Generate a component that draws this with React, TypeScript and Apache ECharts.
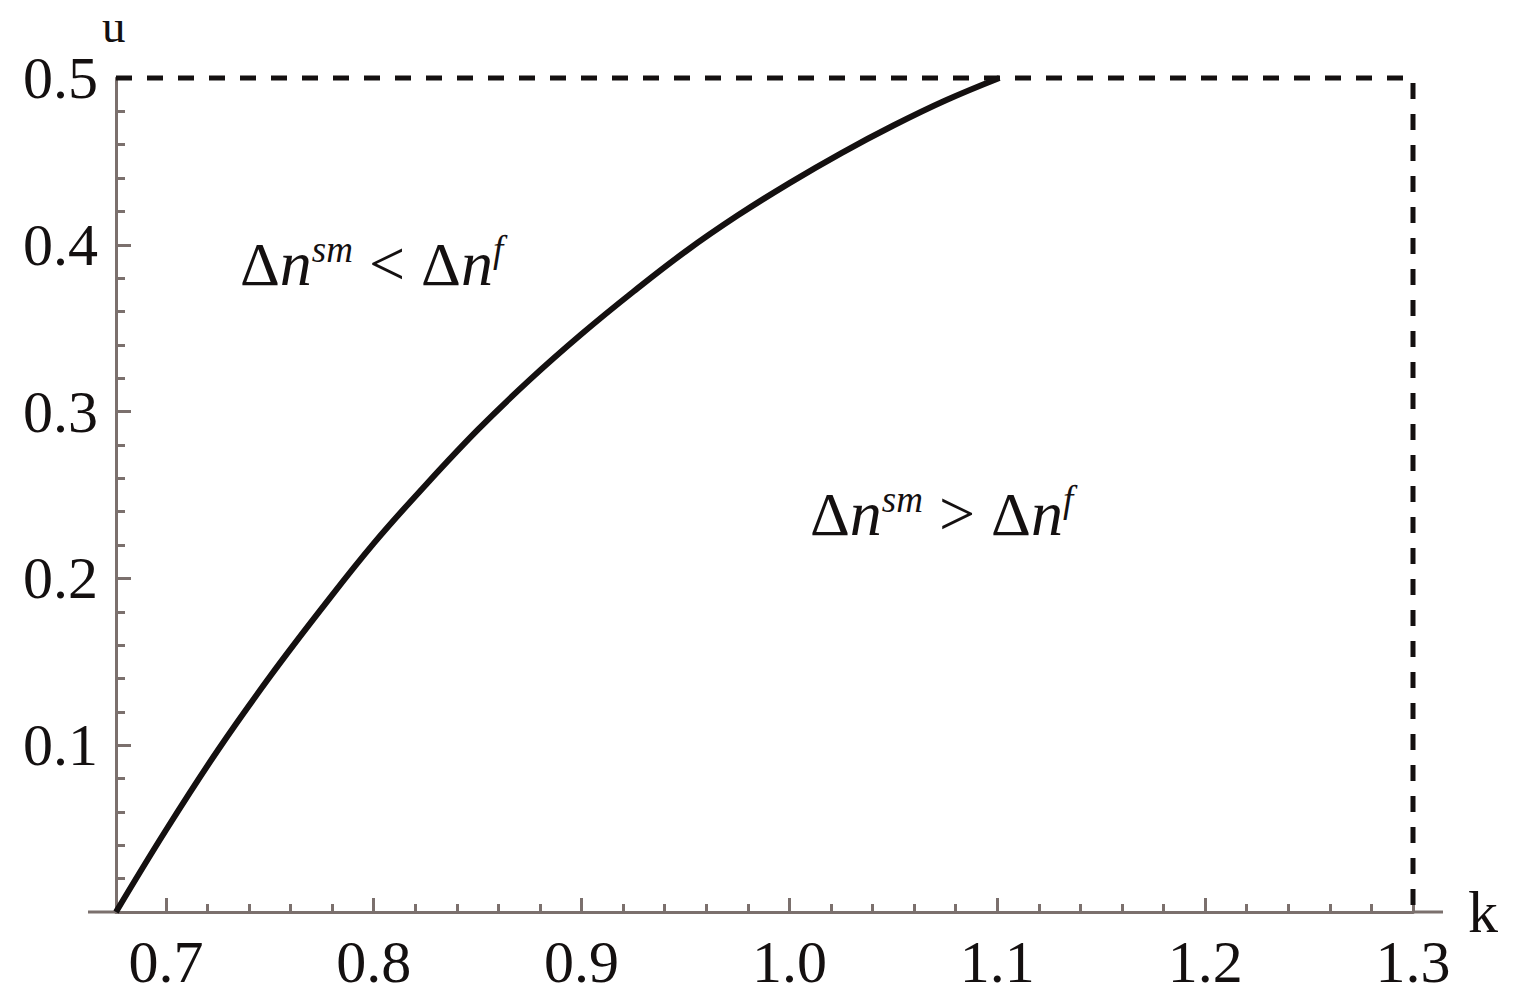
import React, { useEffect, useRef } from "react";
import * as echarts from "echarts";

// Boundary curve (k, u)
const kValues = [0.676, 0.7, 0.725, 0.75, 0.775, 0.8, 0.825, 0.85, 0.875, 0.9, 0.925, 0.95, 0.975, 1.0, 1.025, 1.05, 1.075, 1.101];
const uValues = [0, 0.049, 0.097, 0.141, 0.182, 0.221, 0.256, 0.289, 0.319, 0.3465, 0.372, 0.396, 0.4175, 0.437, 0.455, 0.4715, 0.4865, 0.5];

// Dashed frame (top and right)
const frameK = [0.676, 1.3, 1.3];
const frameU = [0.5, 0.5, 0];

const xMajorTicks = [0.7, 0.8, 0.9, 1.0, 1.1, 1.2, 1.3];
const xMinorTicks = [
  0.72, 0.74, 0.76, 0.78, 0.82, 0.84, 0.86, 0.88, 0.92, 0.94, 0.96, 0.98,
  1.02, 1.04, 1.06, 1.08, 1.12, 1.14, 1.16, 1.18, 1.22, 1.24, 1.26, 1.28,
];
const yTickLabels = [0.1, 0.2, 0.3, 0.4, 0.5];

const xMin = 0.676;
const xMax = 1.3;
const yMin = 0;
const yMax = 0.5;

const labelLeft = "Δn^sm < Δn^f";
const labelRight = "Δn^sm > Δn^f";

const FAMILY = "Liberation Serif";
const AXIS_COLOR = "#7b706d";
const INK = "#141010";

function richLabel(op: string) {
  return `{d|Δ}{n|n}{s|sm}{o| ${op} }{d|Δ}{n|n}{s|f}`;
}

const rich = {
  d: { fontFamily: FAMILY, fontSize: 62, fontWeight: "normal", color: INK, lineHeight: 64, verticalAlign: "bottom" },
  n: { fontFamily: FAMILY, fontSize: 64, fontWeight: "normal", fontStyle: "italic", color: INK, lineHeight: 64, verticalAlign: "bottom" },
  o: { fontFamily: FAMILY, fontSize: 64, fontWeight: "normal", color: INK, lineHeight: 64, verticalAlign: "bottom" },
  s: { fontFamily: FAMILY, fontSize: 37, fontWeight: "normal", fontStyle: "italic", color: INK, lineHeight: 40, verticalAlign: "top" },
};

const regionTextStyle = { fontFamily: FAMILY, fontWeight: "normal", fontSize: 60, color: INK, rich };

export default function App() {
  const ref = useRef<HTMLDivElement>(null);

  useEffect(() => {
    if (!ref.current) return;
    const chart = echarts.init(ref.current, undefined, { renderer: "svg" });
    const curve = kValues.map((k, i) => [k, uValues[i]]);
    const frame = frameK.map((k, i) => [k, frameU[i]]);

    chart.setOption({
      animation: false,
      backgroundColor: "#ffffff",
      title: [
        {
          text: "u",
          left: 102,
          top: 6,
          padding: 0,
          textStyle: { fontFamily: FAMILY, fontSize: 47, fontWeight: "normal", lineHeight: 40, color: INK },
        },
        {
          text: richLabel("<"),
          left: 240,
          top: 231,
          padding: 0,
          textStyle: regionTextStyle,
        },
        {
          text: richLabel(">"),
          left: 810,
          top: 481,
          padding: 0,
          textStyle: regionTextStyle,
        },
      ],
      grid: { left: 116, right: 105, top: 78, bottom: 94, containLabel: false },
      xAxis: [
        {
          type: "value",
          min: xMin,
          max: xMax,
          position: "bottom",
          axisLine: { show: true, lineStyle: { color: AXIS_COLOR, width: 3 } },
          axisTick: {
            show: true,
            inside: true,
            length: 14,
            customValues: xMajorTicks,
            lineStyle: { color: AXIS_COLOR, width: 3 },
          },
          axisLabel: {
            show: true,
            customValues: xMajorTicks,
            formatter: (v: number) => v.toFixed(1),
            fontFamily: FAMILY,
            fontSize: 60,
            color: INK,
            margin: 20,
          },
          splitLine: { show: false },
          name: "k",
          nameLocation: "end",
          nameGap: 55,
          nameTextStyle: { fontFamily: FAMILY, fontSize: 60, color: INK },
        },
        {
          type: "value",
          min: xMin,
          max: xMax,
          position: "bottom",
          offset: 0,
          axisLine: { show: false },
          axisTick: {
            show: true,
            inside: true,
            length: 8,
            customValues: xMinorTicks,
            lineStyle: { color: AXIS_COLOR, width: 3 },
          },
          axisLabel: { show: false },
          splitLine: { show: false },
        },
      ],
      yAxis: {
        type: "value",
        min: yMin,
        max: yMax,
        interval: 0.1,
        axisLine: { show: true, lineStyle: { color: AXIS_COLOR, width: 3 } },
        axisTick: { show: true, inside: true, length: 15, lineStyle: { color: AXIS_COLOR, width: 3 } },
        minorTick: { show: true, splitNumber: 5, length: 9, lineStyle: { color: AXIS_COLOR, width: 3 } },
        axisLabel: {
          show: true,
          customValues: yTickLabels,
          formatter: (v: number) => v.toFixed(1),
          fontFamily: FAMILY,
          fontSize: 60,
          color: INK,
          margin: 18,
        },
        splitLine: { show: false },
        minorSplitLine: { show: false },
      },
      series: [
        {
          type: "line",
          data: frame,
          showSymbol: false,
          clip: false,
          lineStyle: { color: INK, width: 5, type: [16, 15] },
          z: 3,
        },
        {
          type: "line",
          data: curve,
          smooth: 0.4,
          showSymbol: false,
          clip: false,
          lineStyle: { color: INK, width: 6 },
          z: 4,
        },
      ],
      graphic: [
        { type: "line", shape: { x1: 88, y1: 912, x2: 116, y2: 912 }, style: { stroke: AXIS_COLOR, lineWidth: 3 } },
        { type: "line", shape: { x1: 1413, y1: 912, x2: 1443, y2: 912 }, style: { stroke: AXIS_COLOR, lineWidth: 3 } },
      ],
    });

    return () => chart.dispose();
  }, []);

  return (
    <div
      ref={ref}
      aria-label={`${labelLeft}; ${labelRight}`}
      style={{ position: "absolute", left: 0, top: 0, width: 1518, height: 1006, background: "#fff" }}
    />
  );
}
